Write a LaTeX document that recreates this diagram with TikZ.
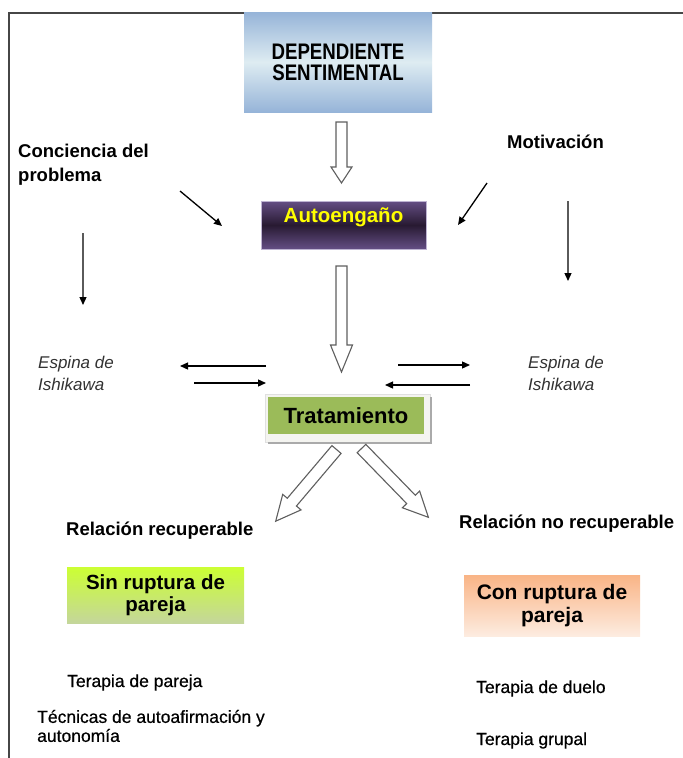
\documentclass[tikz,border=0pt]{standalone}
\usepackage{fontspec}
\setmainfont{Liberation Sans}
\newfontfamily\condfont[FakeStretch=0.83]{Liberation Sans}
\newfontfamily\heavyfont[FakeBold=0.6]{Liberation Sans}
\usetikzlibrary{arrows.meta}
\definecolor{framegray}{RGB}{70,70,70}
\definecolor{depblue}{RGB}{150,180,216}
\definecolor{deplight}{RGB}{222,236,242}
\definecolor{autopurple}{RGB}{100,78,132}
\definecolor{autodark}{RGB}{40,26,50}
\definecolor{autoedge}{RGB}{190,180,210}
\definecolor{autoyellow}{RGB}{255,255,0}
\definecolor{tratgreen}{RGB}{155,187,89}
\definecolor{tratframe}{RGB}{244,244,240}
\definecolor{tratshadow}{RGB}{170,170,170}
\definecolor{sintop}{RGB}{204,255,51}
\definecolor{sinbot}{RGB}{196,214,155}
\definecolor{contop}{RGB}{249,180,134}
\definecolor{conbot}{RGB}{253,236,224}
\definecolor{blockgray}{RGB}{95,95,95}
\definecolor{arrowgray}{RGB}{90,90,90}
\definecolor{italgray}{RGB}{50,50,50}
\tikzset{
  frameline/.style={draw=framegray, line width=1.8pt},
  thinarrow/.style={-{Triangle[length=8pt,width=7pt,color=black]}, line width=1.3pt, draw=black},
  grayarrow/.style={thinarrow, draw=arrowgray},
  blockline/.style={draw=blockgray, line width=1.1pt, fill=white, line join=miter},
  pics/blockarrow/.style args={#1/#2/#3/#4}{code={
    \draw[blockline] (0,-#2) -- ({#1-#4},-#2) -- ({#1-#4},-#3) -- (#1,0)
      -- ({#1-#4},#3) -- ({#1-#4},#2) -- (0,#2) -- cycle;
  }},
  boldlabel/.style={font=\bfseries\fontsize{18.5}{24}\selectfont, inner sep=0pt, align=left, text=black},
  itallabel/.style={font=\itshape\fontsize{17}{22}\selectfont, inner sep=0pt, align=left, text=italgray},
  plainlabel/.style={font=\heavyfont\fontsize{17.5}{19}\selectfont, inner sep=0pt, align=left, text=black},
  depbox/.style={rectangle, inner sep=0pt, minimum width=188pt, minimum height=100pt,
    top color=depblue, bottom color=depblue, middle color=deplight, align=center,
    font=\condfont\bfseries\fontsize{22.5}{21}\selectfont},
  autobox/.style={rectangle, inner sep=0pt, minimum width=165pt, minimum height=48pt,
    top color=autopurple, bottom color=autopurple, middle color=autodark, draw=autoedge, line width=0.6pt},
  autotext/.style={inner sep=0pt, text=autoyellow, font=\bfseries\fontsize{20.5}{20}\selectfont},
  tratouter/.style={rectangle, inner sep=0pt, minimum width=165pt, minimum height=48pt,
    fill=tratframe, draw=black!12, line width=0.6pt},
  tratbox/.style={rectangle, inner sep=0pt, minimum width=156pt, minimum height=37pt,
    fill=tratgreen, font=\bfseries\fontsize{22}{22}\selectfont},
  sinbox/.style={rectangle, inner sep=0pt, minimum width=177pt, minimum height=56pt,
    top color=sintop, bottom color=sinbot, align=center, font=\bfseries\fontsize{20.5}{21.5}\selectfont},
  conbox/.style={rectangle, inner sep=0pt, minimum width=176pt, minimum height=61pt,
    top color=contop, bottom color=conbot, align=center, font=\bfseries\fontsize{21}{22.5}\selectfont},
}
\begin{document}
\begin{tikzpicture}[x=1pt,y=-1pt]
\useasboundingbox (0,0) rectangle (683,758);
% frame
\draw[frameline] (9,758) -- (9,13) -- (683,13);

% main boxes
\node[depbox] (dep) at (338,62) {DEPENDIENTE\\SENTIMENTAL};
\node[autobox] (auto) at (343.5,225) {};
\node[autotext] (autolabel) at (343.5,217.5) {Autoengaño};
\node[tratouter] (tratfr) at (347.5,418) {};
\draw[tratshadow, line width=1.8pt] (431,397) -- (431,443) -- (268,443);
\node[tratbox] (trat) at (346,415.5) {Tratamiento};
\node[sinbox] (sin) at (155.5,595) {Sin ruptura de\\pareja};
\node[conbox] (con) at (552,605.5) {Con ruptura de\\pareja};

% labels
\node[boldlabel, anchor=west] (conc) at (18,165) {Conciencia del\\problema};
\node[boldlabel, anchor=base west] (motiv) at (507,148) {Motivación};
\node[itallabel, anchor=west] (espL) at (38,373) {Espina de\\Ishikawa};
\node[itallabel, anchor=west] (espR) at (528,373) {Espina de\\Ishikawa};
\node[boldlabel, anchor=base west] (relR) at (66,535) {Relación recuperable};
\node[boldlabel, anchor=base west] (relN) at (459,528) {Relación no recuperable};
\node[plainlabel, anchor=base west] (tp) at (67,687) {Terapia de pareja};
\node[plainlabel, anchor=west] (tec) at (37,726) {Técnicas de autoafirmación y\\autonomía};
\node[plainlabel, anchor=base west] (td) at (476,693) {Terapia de duelo};
\node[plainlabel, anchor=base west] (tg) at (476,745) {Terapia grupal};

% block arrows
\coordinate (b1) at (341.5,122);
\coordinate (b2) at (341.5,266);
\coordinate (b3) at (336.5,449.5);
\coordinate (b4) at (361.5,448.5);
\pic[rotate=-90] at (b1) {blockarrow=61/5.5/10.5/16};
\pic[rotate=-90] at (b2) {blockarrow=106/5.5/11/27};
\pic[rotate=-130.3] at (b3) {blockarrow=94/6/12/25};
\pic[rotate=-45.8] at (b4) {blockarrow=96/6/12/25};

% thin arrows
\coordinate (c1s) at (180,191); \coordinate (c1e) at (222,226);
\coordinate (c2s) at (487,183); \coordinate (c2e) at (458,225);
\coordinate (v1s) at (83,233);  \coordinate (v1e) at (83,305);
\coordinate (v2s) at (568,201); \coordinate (v2e) at (568,281);
\coordinate (e1s) at (266,366); \coordinate (e1e) at (180,366);
\coordinate (e2s) at (194,383); \coordinate (e2e) at (266,383);
\coordinate (e3s) at (398,365); \coordinate (e3e) at (470,365);
\coordinate (e4s) at (470,385); \coordinate (e4e) at (385,385);
\draw[thinarrow] (c1s) -- (c1e);
\draw[thinarrow] (c2s) -- (c2e);
\draw[grayarrow] (v1s) -- (v1e);
\draw[grayarrow] (v2s) -- (v2e);
\draw[thinarrow] (e1s) -- (e1e);
\draw[thinarrow] (e2s) -- (e2e);
\draw[thinarrow] (e3s) -- (e3e);
\draw[thinarrow] (e4s) -- (e4e);
\end{tikzpicture}
\end{document}
